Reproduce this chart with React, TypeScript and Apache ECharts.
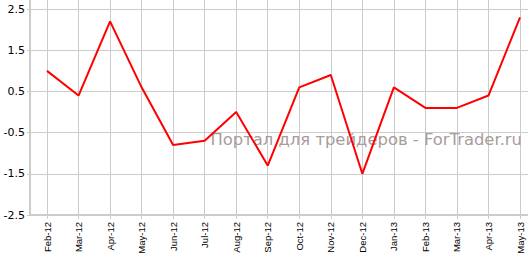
import React, { useEffect, useRef } from "react";
import * as echarts from "echarts";

const months = [
  "Feb-12", "Mar-12", "Apr-12", "May-12", "Jun-12", "Jul-12", "Aug-12", "Sep-12",
  "Oct-12", "Nov-12", "Dec-12", "Jan-13", "Feb-13", "Mar-13", "Apr-13", "May-13",
];
const values = [1.0, 0.4, 2.2, 0.6, -0.8, -0.7, 0.0, -1.3, 0.6, 0.9, -1.5, 0.6, 0.1, 0.1, 0.4, 2.3];
const watermark = "Портал для трейдеров - ForTrader.ru";

const FONT = "DejaVu Sans";
const XFONT = "Liberation Sans";
const GRID_COLOR = "#cccccc";

export default function App() {
  const ref = useRef<HTMLDivElement>(null);
  useEffect(() => {
    if (!ref.current) return;
    const chart = echarts.init(ref.current, null, { renderer: "svg" });
    chart.setOption({
      animation: false,
      backgroundColor: "#ffffff",
      grid: [
        { left: 30, right: 0, top: 0, bottom: 42, outerBoundsMode: "none", containLabel: false },
        { left: 30, right: 0, top: 9, bottom: 42, outerBoundsMode: "none", containLabel: false },
        { left: 47, right: 8, top: 0, bottom: 42, outerBoundsMode: "none", containLabel: false },
      ],
      xAxis: [
        {
          gridIndex: 0, type: "value", min: 0, max: 1,
          axisLine: { show: true, onZero: false, lineStyle: { color: GRID_COLOR, width: 2 } },
          axisTick: { show: false }, axisLabel: { show: false }, splitLine: { show: false },
        },
        {
          gridIndex: 1, type: "value", min: 0, max: 1, show: false,
          axisLine: { onZero: false },
        },
        {
          gridIndex: 2, type: "category", data: months, boundaryGap: false,
          axisLine: { show: false, onZero: false },
          axisTick: { show: true, length: 4, lineStyle: { color: GRID_COLOR, width: 1 } },
          splitLine: { show: true, lineStyle: { color: GRID_COLOR, width: 1 } },
          axisLabel: { rotate: 90, margin: 7, color: "#000", fontFamily: XFONT, fontSize: 9.5, interval: 0 },
        },
      ],
      yAxis: [
        {
          gridIndex: 0, type: "value", min: -2.5, max: 2.72,
          axisLine: { show: true, onZero: false, lineStyle: { color: GRID_COLOR, width: 2 } },
          axisTick: { show: false }, axisLabel: { show: false }, splitLine: { show: false },
        },
        {
          gridIndex: 1, type: "value", min: -2.5, max: 2.5, interval: 1,
          axisLine: { show: false, onZero: false },
          axisTick: { show: true, length: 3, lineStyle: { color: GRID_COLOR } },
          splitLine: { show: true, lineStyle: { color: GRID_COLOR, width: 1 } },
          axisLabel: {
            margin: 5, color: "#000", fontFamily: FONT, fontSize: 11,
            formatter: (v: number) => v.toFixed(1),
          },
        },
        {
          gridIndex: 2, type: "value", min: -2.5, max: 2.72, show: false,
          axisLine: { onZero: false },
        },
      ],
      graphic: [
        {
          type: "text", right: 6, top: 131, z: 1,
          style: { text: watermark, fill: "#a89c9c", font: `16.4px "${FONT}"` },
        },
      ],
      series: [
        {
          type: "line", xAxisIndex: 2, yAxisIndex: 2, data: values,
          showSymbol: false, symbol: "none",
          lineStyle: { color: "#ff0000", width: 2 }, z: 5,
        },
      ],
    });
    return () => chart.dispose();
  }, []);
  return <div ref={ref} style={{ width: 528, height: 257, position: "absolute", left: 0, top: 0 }} />;
}
